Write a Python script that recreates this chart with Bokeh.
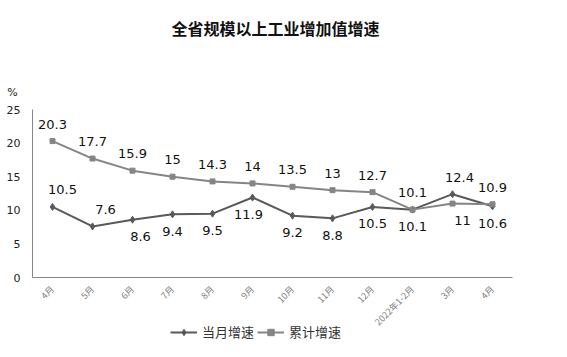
import math
from bokeh.plotting import figure
from bokeh.models import (ColumnDataSource, Legend, LegendItem, Range1d, Label,
                          FixedTicker, SingleIntervalTicker)
from bokeh.core.properties import value
from bokeh.embed import file_html
from bokeh.resources import INLINE

title_text = "全省规模以上工业增加值增速"
unit_text = "%"
tick_labels = ["4月", "5月", "6月", "7月", "8月", "9月", "10月", "11月", "12月",
               "2022年1-2月", "3月", "4月"]
series_names = ["当月增速", "累计增速"]
monthly = [10.5, 7.6, 8.6, 9.4, 9.5, 11.9, 9.2, 8.8, 10.5, 10.1, 12.4, 10.6]
cumulative = [20.3, 17.7, 15.9, 15.0, 14.3, 14.0, 13.5, 13.0, 12.7, 10.1, 11.0, 10.9]

# label placement (style, not data)
monthly_side = ["above", "above", "below", "below", "below", "below",
                "below", "below", "below", "below", "above", "below"]
monthly_dx = [10, 13, 8, 0, 0, -4, 0, 0, 0, 0, 7, 0]
cumulative_side = ["above"] * 10 + ["below", "above"]
cumulative_dx = [0] * 10 + [10, 0]

FONT = "DejaVu Sans"
CJK = "Noto Sans CJK SC"
C_MONTH = "#595959"
C_CUM = "#858585"

W, H = 551, 341
xs = list(range(len(tick_labels)))
n = len(tick_labels)
# the plotting area (0..25, one band per period) sits inside a frame that spans
# the whole canvas, so title, unit and legend can be drawn as frame annotations
band = 40.0
left_px = 32.0
x0 = -0.5 - left_px / band
x1 = x0 + W / band
ppu = 168.0 / 25.0
y0 = -(H - 277) / ppu
y1 = y0 + H / ppu

p = figure(width=W, height=H, output_backend="svg", toolbar_location=None,
           x_range=Range1d(x0, x1), y_range=Range1d(y0, y1),
           min_border=0, title_location=None)
p.outline_line_color = None
p.xgrid.grid_line_color = None
p.ygrid.grid_line_color = None
p.background_fill_color = None
p.border_fill_color = None

src = ColumnDataSource(dict(x=xs, m=monthly, c=cumulative))
lm = p.line("x", "m", source=src, line_color=C_MONTH, line_width=2)
sm = p.scatter("x", "m", source=src, marker="diamond", size=7,
               fill_color=C_MONTH, line_color=C_MONTH)
lc = p.line("x", "c", source=src, line_color=C_CUM, line_width=2)
sc = p.scatter("x", "c", source=src, marker="square", size=5,
               fill_color=C_CUM, line_color=C_CUM)

def fmt(v):
    return "{:g}".format(v)

for vals, sides, dxs in ((monthly, monthly_side, monthly_dx),
                         (cumulative, cumulative_side, cumulative_dx)):
    for side, dy in (("above", -17), ("below", 17)):
        idx = [i for i, s in enumerate(sides) if s == side]
        if not idx:
            continue
        ls = ColumnDataSource(dict(x=[xs[i] for i in idx],
                                   y=[vals[i] for i in idx],
                                   t=[fmt(vals[i]) for i in idx],
                                   dx=[dxs[i] for i in idx]))
        p.text("x", "y", text="t", source=ls, x_offset="dx", y_offset=dy,
               text_align="center", text_baseline="middle",
               text_font=value(FONT), text_font_size="13px", text_color="#111111")

# axes, pinned to the plotting area
yax = p.yaxis[0]
yax.fixed_location = -0.5
yax.bounds = (0, 25)
yax.ticker = SingleIntervalTicker(interval=5)
yax.major_tick_line_color = None
yax.minor_tick_line_color = None
yax.major_tick_out = 0
yax.axis_line_color = "#868686"
yax.major_label_text_font = FONT
yax.major_label_text_font_size = "11px"
yax.major_label_text_color = "#222222"
yax.major_label_standoff = 8

xax = p.xaxis[0]
xax.fixed_location = 0
xax.bounds = (-0.5, n - 0.5)
xax.ticker = FixedTicker(ticks=xs)
xax.major_tick_line_color = None
xax.minor_tick_line_color = None
xax.major_tick_out = 0
xax.axis_line_color = "#868686"
xax.major_label_orientation = math.pi / 4
xax.major_label_text_font = CJK
xax.major_label_text_font_size = "9px"
xax.major_label_text_color = "#808080"
xax.major_label_standoff = 10
xax.major_label_overrides = {i: t for i, t in zip(xs, tick_labels)}

p.add_layout(Label(x=275, y=H - 27, x_units="screen", y_units="screen",
                   text=title_text, text_align="center", text_baseline="middle",
                   text_font=CJK, text_font_size="16px", text_font_style="bold",
                   text_color="#111111"))
p.add_layout(Label(x=12, y=H - 92, x_units="screen", y_units="screen",
                   text=unit_text, text_align="center", text_baseline="middle",
                   text_font=FONT, text_font_size="11px", text_color="#222222"))

legend = Legend(items=[LegendItem(label=series_names[0], renderers=[lm, sm]),
                       LegendItem(label=series_names[1], renderers=[lc, sc])],
                orientation="horizontal", location=(170, 0),
                glyph_width=27, glyph_height=16, label_height=16,
                label_standoff=5, spacing=3,
                padding=0, margin=0, border_line_color=None,
                background_fill_alpha=0,
                label_text_font=CJK, label_text_font_size="13px",
                label_text_color="#333333")
p.add_layout(legend)

open("out.html", "w").write(file_html(p, INLINE))
